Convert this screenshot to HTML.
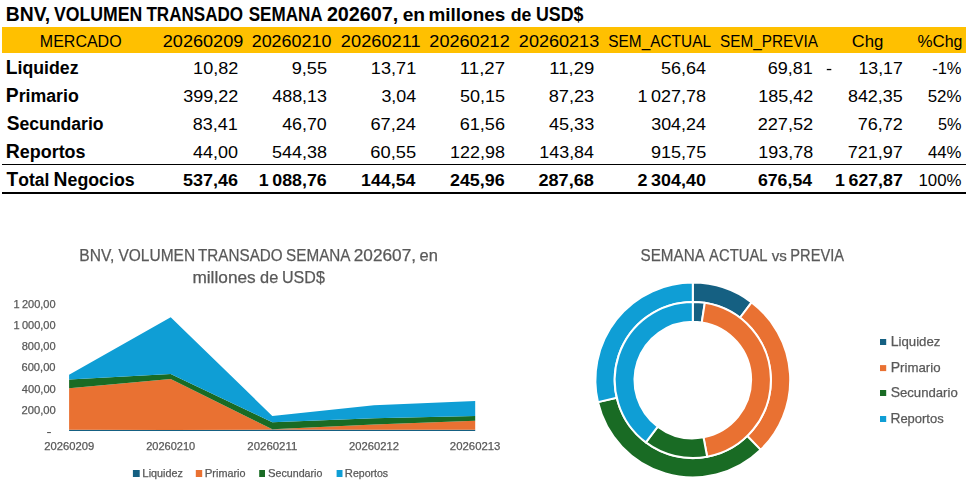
<!DOCTYPE html>
<html><head><meta charset="utf-8"><style>
html,body{margin:0;padding:0;background:#fff;}
svg{display:block;}
text{font-family:"Liberation Sans",sans-serif;white-space:pre;}
</style></head><body>
<svg width="972" height="491" viewBox="0 0 972 491">
<rect x="0" y="0" width="972" height="491" fill="#fff"/>
<rect x="2" y="27" width="964" height="26" fill="#FFC000"/>
<rect x="2" y="164" width="964" height="1" fill="#000"/>
<rect x="2" y="192" width="964" height="2" fill="#000"/>
<rect x="826.8" y="68.9" width="4.5" height="1.3" fill="#000"/>
<rect x="47.1" y="432" width="3.8" height="1.1" fill="#595959"/>
<path d="M69.10,429.87 L170.70,430.00 L272.30,429.57 L374.00,429.82 L475.20,429.82 L475.20,431.00 L374.00,431.00 L272.30,431.00 L170.70,431.00 L69.10,431.00 Z" fill="#156082"/>
<path d="M69.10,388.15 L170.70,378.99 L272.30,429.25 L374.00,424.58 L475.20,420.70 L475.20,429.82 L374.00,429.82 L272.30,429.57 L170.70,430.00 L69.10,429.87 Z" fill="#E97132"/>
<path d="M69.10,379.43 L170.70,374.11 L272.30,422.22 L374.00,418.15 L475.20,415.97 L475.20,420.70 L374.00,424.58 L272.30,429.25 L170.70,378.99 L69.10,388.15 Z" fill="#196B24"/>
<path d="M69.10,374.84 L170.70,317.22 L272.30,415.90 L374.00,405.30 L475.20,400.94 L475.20,415.97 L374.00,418.15 L272.30,422.22 L170.70,374.11 L69.10,379.43 Z" fill="#0F9ED5"/>
<path d="M692.80,282.60 A97.4,97.4 0 0 1 751.62,302.36 L739.96,317.75 A78.1,78.1 0 0 0 692.80,301.90 Z" fill="#156082" stroke="#fff" stroke-width="2.0" stroke-linejoin="round"/>
<path d="M751.62,302.36 A97.4,97.4 0 0 1 760.69,449.84 L747.23,436.00 A78.1,78.1 0 0 0 739.96,317.75 Z" fill="#E97132" stroke="#fff" stroke-width="2.0" stroke-linejoin="round"/>
<path d="M760.69,449.84 A97.4,97.4 0 0 1 597.94,402.10 L616.74,397.72 A78.1,78.1 0 0 0 747.23,436.00 Z" fill="#196B24" stroke="#fff" stroke-width="2.0" stroke-linejoin="round"/>
<path d="M597.94,402.10 A97.4,97.4 0 0 1 692.80,282.60 L692.80,301.90 A78.1,78.1 0 0 0 616.74,397.72 Z" fill="#0F9ED5" stroke="#fff" stroke-width="2.0" stroke-linejoin="round"/>
<path d="M692.80,301.90 A78.1,78.1 0 0 1 704.81,302.83 L701.77,322.39 A58.3,58.3 0 0 0 692.80,321.70 Z" fill="#156082" stroke="#fff" stroke-width="2.0" stroke-linejoin="round"/>
<path d="M704.81,302.83 A78.1,78.1 0 0 1 707.15,456.77 L703.51,437.31 A58.3,58.3 0 0 0 701.77,322.39 Z" fill="#E97132" stroke="#fff" stroke-width="2.0" stroke-linejoin="round"/>
<path d="M707.15,456.77 A78.1,78.1 0 0 1 645.86,442.42 L657.76,426.60 A58.3,58.3 0 0 0 703.51,437.31 Z" fill="#196B24" stroke="#fff" stroke-width="2.0" stroke-linejoin="round"/>
<path d="M645.86,442.42 A78.1,78.1 0 0 1 692.80,301.90 L692.80,321.70 A58.3,58.3 0 0 0 657.76,426.60 Z" fill="#0F9ED5" stroke="#fff" stroke-width="2.0" stroke-linejoin="round"/>
<rect x="132.9" y="470" width="6.80" height="7" fill="#156082"/>
<rect x="195.8" y="470" width="6.40" height="7" fill="#E97132"/>
<rect x="259.2" y="470" width="5.80" height="7" fill="#196B24"/>
<rect x="336.6" y="470" width="5.90" height="7" fill="#0F9ED5"/>
<rect x="880.0" y="339.0" width="6.2" height="6.0" fill="#156082"/>
<rect x="880.0" y="365.1" width="6.2" height="6.0" fill="#E97132"/>
<rect x="880.0" y="390.0" width="6.2" height="6.0" fill="#196B24"/>
<rect x="880.0" y="416.0" width="6.2" height="6.0" fill="#0F9ED5"/>
<text x="5.79" y="20.80" font-size="19.77" textLength="44.45" lengthAdjust="spacingAndGlyphs" fill="#000" font-weight="bold">BNV,</text>
<text x="54.00" y="20.80" font-size="19.77" textLength="88.36" lengthAdjust="spacingAndGlyphs" fill="#000" font-weight="bold">VOLUMEN</text>
<text x="146.40" y="20.80" font-size="19.77" textLength="96.67" lengthAdjust="spacingAndGlyphs" fill="#000" font-weight="bold">TRANSADO</text>
<text x="248.73" y="20.80" font-size="19.77" textLength="73.89" lengthAdjust="spacingAndGlyphs" fill="#000" font-weight="bold">SEMANA</text>
<text x="326.88" y="20.80" font-size="19.77" textLength="71.49" lengthAdjust="spacingAndGlyphs" fill="#000" font-weight="bold">202607,</text>
<text x="402.70" y="20.80" font-size="19.77" textLength="22.43" lengthAdjust="spacingAndGlyphs" fill="#000" font-weight="bold"><tspan font-size="18.19">en</tspan></text>
<text x="428.52" y="20.80" font-size="19.77" textLength="76.75" lengthAdjust="spacingAndGlyphs" fill="#000" font-weight="bold"><tspan font-size="18.19">millones</tspan></text>
<text x="510.75" y="20.80" font-size="19.77" textLength="20.70" lengthAdjust="spacingAndGlyphs" fill="#000" font-weight="bold"><tspan font-size="18.19">de</tspan></text>
<text x="535.97" y="20.80" font-size="19.77" textLength="47.50" lengthAdjust="spacingAndGlyphs" fill="#000" font-weight="bold">USD$</text>
<text x="39.85" y="46.90" font-size="16.93" textLength="81.74" lengthAdjust="spacingAndGlyphs" fill="#000">MERCADO</text>
<text x="162.75" y="46.90" font-size="16.93" textLength="80.58" lengthAdjust="spacingAndGlyphs" fill="#000">20260209</text>
<text x="251.66" y="46.90" font-size="16.93" textLength="79.79" lengthAdjust="spacingAndGlyphs" fill="#000">20260210</text>
<text x="340.85" y="46.90" font-size="16.93" textLength="79.79" lengthAdjust="spacingAndGlyphs" fill="#000">20260211</text>
<text x="429.35" y="46.90" font-size="16.93" textLength="80.38" lengthAdjust="spacingAndGlyphs" fill="#000">20260212</text>
<text x="518.85" y="46.90" font-size="16.93" textLength="80.38" lengthAdjust="spacingAndGlyphs" fill="#000">20260213</text>
<text x="608.32" y="46.90" font-size="16.93" textLength="102.66" lengthAdjust="spacingAndGlyphs" fill="#000">SEM_ACTUAL</text>
<text x="720.02" y="46.90" font-size="16.93" textLength="97.90" lengthAdjust="spacingAndGlyphs" fill="#000">SEM_PREVIA</text>
<text x="851.76" y="46.90" font-size="16.93" textLength="31.58" lengthAdjust="spacingAndGlyphs" fill="#000">C<tspan font-size="15.91">hg</tspan></text>
<text x="917.47" y="46.90" font-size="16.93" textLength="44.92" lengthAdjust="spacingAndGlyphs" fill="#000">%C<tspan font-size="15.91">hg</tspan></text>
<text x="5.80" y="74.00" font-size="20.06" textLength="72.76" lengthAdjust="spacingAndGlyphs" fill="#000" font-weight="bold">L<tspan font-size="18.45">iquidez</tspan></text>
<text x="5.80" y="102.00" font-size="20.06" textLength="72.99" lengthAdjust="spacingAndGlyphs" fill="#000" font-weight="bold">P<tspan font-size="18.45">rimario</tspan></text>
<text x="6.70" y="130.00" font-size="20.06" textLength="96.87" lengthAdjust="spacingAndGlyphs" fill="#000" font-weight="bold">S<tspan font-size="18.45">ecundario</tspan></text>
<text x="5.78" y="158.00" font-size="20.06" textLength="79.74" lengthAdjust="spacingAndGlyphs" fill="#000" font-weight="bold">R<tspan font-size="18.45">eportos</tspan></text>
<text x="6.60" y="186.00" font-size="20.06" textLength="42.73" lengthAdjust="spacingAndGlyphs" fill="#000" font-weight="bold">T<tspan font-size="18.45">otal</tspan></text>
<text x="53.59" y="186.00" font-size="20.06" textLength="81.03" lengthAdjust="spacingAndGlyphs" fill="#000" font-weight="bold">N<tspan font-size="18.45">egocios</tspan></text>
<text x="193.12" y="74.00" font-size="17.21" textLength="45.11" lengthAdjust="spacingAndGlyphs" fill="#000">10,82</text>
<text x="291.65" y="74.00" font-size="17.21" textLength="35.34" lengthAdjust="spacingAndGlyphs" fill="#000">9,55</text>
<text x="370.87" y="74.00" font-size="17.21" textLength="45.37" lengthAdjust="spacingAndGlyphs" fill="#000">13,71</text>
<text x="459.84" y="74.00" font-size="17.21" textLength="45.17" lengthAdjust="spacingAndGlyphs" fill="#000">11,27</text>
<text x="549.34" y="74.00" font-size="17.21" textLength="44.91" lengthAdjust="spacingAndGlyphs" fill="#000">11,29</text>
<text x="660.94" y="74.00" font-size="17.21" textLength="45.01" lengthAdjust="spacingAndGlyphs" fill="#000">56,64</text>
<text x="767.66" y="74.00" font-size="17.21" textLength="45.07" lengthAdjust="spacingAndGlyphs" fill="#000">69,81</text>
<text x="858.50" y="74.00" font-size="17.21" textLength="44.22" lengthAdjust="spacingAndGlyphs" fill="#000">13,17</text>
<text x="932.24" y="74.00" font-size="17.21" textLength="29.25" lengthAdjust="spacingAndGlyphs" fill="#000">-1%</text>
<text x="183.19" y="102.00" font-size="17.21" textLength="55.04" lengthAdjust="spacingAndGlyphs" fill="#000">399,22</text>
<text x="272.22" y="102.00" font-size="17.21" textLength="54.76" lengthAdjust="spacingAndGlyphs" fill="#000">488,13</text>
<text x="381.44" y="102.00" font-size="17.21" textLength="34.75" lengthAdjust="spacingAndGlyphs" fill="#000">3,04</text>
<text x="459.94" y="102.00" font-size="17.21" textLength="45.04" lengthAdjust="spacingAndGlyphs" fill="#000">50,15</text>
<text x="548.68" y="102.00" font-size="17.21" textLength="45.56" lengthAdjust="spacingAndGlyphs" fill="#000">87,23</text>
<text x="637.48" y="102.00" font-size="17.21" textLength="68.65" lengthAdjust="spacingAndGlyphs" fill="#000">1 027,78</text>
<text x="758.38" y="102.00" font-size="17.21" textLength="54.85" lengthAdjust="spacingAndGlyphs" fill="#000">185,42</text>
<text x="847.94" y="102.00" font-size="17.21" textLength="54.79" lengthAdjust="spacingAndGlyphs" fill="#000">842,35</text>
<text x="927.72" y="102.00" font-size="17.21" textLength="33.78" lengthAdjust="spacingAndGlyphs" fill="#000">52%</text>
<text x="192.69" y="130.00" font-size="17.21" textLength="45.04" lengthAdjust="spacingAndGlyphs" fill="#000">83,41</text>
<text x="282.22" y="130.00" font-size="17.21" textLength="44.47" lengthAdjust="spacingAndGlyphs" fill="#000">46,70</text>
<text x="370.40" y="130.00" font-size="17.21" textLength="45.56" lengthAdjust="spacingAndGlyphs" fill="#000">67,24</text>
<text x="459.65" y="130.00" font-size="17.21" textLength="45.33" lengthAdjust="spacingAndGlyphs" fill="#000">61,56</text>
<text x="548.97" y="130.00" font-size="17.21" textLength="45.27" lengthAdjust="spacingAndGlyphs" fill="#000">45,33</text>
<text x="651.19" y="130.00" font-size="17.21" textLength="54.76" lengthAdjust="spacingAndGlyphs" fill="#000">304,24</text>
<text x="757.65" y="130.00" font-size="17.21" textLength="55.59" lengthAdjust="spacingAndGlyphs" fill="#000">227,52</text>
<text x="857.66" y="130.00" font-size="17.21" textLength="45.07" lengthAdjust="spacingAndGlyphs" fill="#000">76,72</text>
<text x="937.99" y="130.00" font-size="17.21" textLength="23.49" lengthAdjust="spacingAndGlyphs" fill="#000">5%</text>
<text x="192.97" y="158.00" font-size="17.21" textLength="44.98" lengthAdjust="spacingAndGlyphs" fill="#000">44,00</text>
<text x="271.94" y="158.00" font-size="17.21" textLength="55.04" lengthAdjust="spacingAndGlyphs" fill="#000">544,38</text>
<text x="370.39" y="158.00" font-size="17.21" textLength="45.85" lengthAdjust="spacingAndGlyphs" fill="#000">60,55</text>
<text x="450.13" y="158.00" font-size="17.21" textLength="54.85" lengthAdjust="spacingAndGlyphs" fill="#000">122,98</text>
<text x="539.39" y="158.00" font-size="17.21" textLength="54.56" lengthAdjust="spacingAndGlyphs" fill="#000">143,84</text>
<text x="650.90" y="158.00" font-size="17.21" textLength="55.33" lengthAdjust="spacingAndGlyphs" fill="#000">915,75</text>
<text x="758.38" y="158.00" font-size="17.21" textLength="54.85" lengthAdjust="spacingAndGlyphs" fill="#000">193,78</text>
<text x="847.66" y="158.00" font-size="17.21" textLength="55.07" lengthAdjust="spacingAndGlyphs" fill="#000">721,97</text>
<text x="927.99" y="158.00" font-size="17.21" textLength="33.51" lengthAdjust="spacingAndGlyphs" fill="#000">44%</text>
<text x="182.97" y="186.00" font-size="17.21" textLength="54.98" lengthAdjust="spacingAndGlyphs" fill="#000" font-weight="bold">537,46</text>
<text x="258.89" y="186.00" font-size="17.21" textLength="67.80" lengthAdjust="spacingAndGlyphs" fill="#000" font-weight="bold">1 088,76</text>
<text x="361.09" y="186.00" font-size="17.21" textLength="54.40" lengthAdjust="spacingAndGlyphs" fill="#000" font-weight="bold">144,54</text>
<text x="449.94" y="186.00" font-size="17.21" textLength="54.76" lengthAdjust="spacingAndGlyphs" fill="#000" font-weight="bold">245,96</text>
<text x="538.43" y="186.00" font-size="17.21" textLength="55.52" lengthAdjust="spacingAndGlyphs" fill="#000" font-weight="bold">287,68</text>
<text x="637.54" y="186.00" font-size="17.21" textLength="68.39" lengthAdjust="spacingAndGlyphs" fill="#000" font-weight="bold">2 304,40</text>
<text x="757.95" y="186.00" font-size="17.21" textLength="54.14" lengthAdjust="spacingAndGlyphs" fill="#000" font-weight="bold">676,54</text>
<text x="835.09" y="186.00" font-size="17.21" textLength="67.73" lengthAdjust="spacingAndGlyphs" fill="#000" font-weight="bold">1 627,87</text>
<text x="918.45" y="186.00" font-size="17.21" textLength="43.05" lengthAdjust="spacingAndGlyphs" fill="#000">100%</text>
</svg>
<svg style="position:absolute;left:0;top:0;will-change:transform" width="972" height="491" viewBox="0 0 972 491">
<text x="79.28" y="260.90" font-size="16.93" textLength="34.98" lengthAdjust="spacingAndGlyphs" fill="#595959" stroke="#595959" stroke-width="0.25">BNV,</text>
<text x="118.40" y="260.90" font-size="16.93" textLength="76.77" lengthAdjust="spacingAndGlyphs" fill="#595959" stroke="#595959" stroke-width="0.25">VOLUMEN</text>
<text x="198.06" y="260.90" font-size="16.93" textLength="84.60" lengthAdjust="spacingAndGlyphs" fill="#595959" stroke="#595959" stroke-width="0.25">TRANSADO</text>
<text x="286.12" y="260.90" font-size="16.93" textLength="64.40" lengthAdjust="spacingAndGlyphs" fill="#595959" stroke="#595959" stroke-width="0.25">SEMANA</text>
<text x="353.79" y="260.90" font-size="16.93" textLength="62.30" lengthAdjust="spacingAndGlyphs" fill="#595959" stroke="#595959" stroke-width="0.25">202607,</text>
<text x="419.48" y="260.90" font-size="16.93" textLength="18.34" lengthAdjust="spacingAndGlyphs" fill="#595959" stroke="#595959" stroke-width="0.25"><tspan font-size="15.91">en</tspan></text>
<text x="192.42" y="282.90" font-size="16.93" textLength="63.32" lengthAdjust="spacingAndGlyphs" fill="#595959" stroke="#595959" stroke-width="0.25"><tspan font-size="15.91">millones</tspan></text>
<text x="260.09" y="282.90" font-size="16.93" textLength="18.17" lengthAdjust="spacingAndGlyphs" fill="#595959" stroke="#595959" stroke-width="0.25"><tspan font-size="15.91">de</tspan></text>
<text x="282.00" y="282.90" font-size="16.93" textLength="42.85" lengthAdjust="spacingAndGlyphs" fill="#595959" stroke="#595959" stroke-width="0.25">USD$</text>
<text x="13.61" y="308.10" font-size="10.53" textLength="41.96" lengthAdjust="spacingAndGlyphs" fill="#595959" stroke="#595959" stroke-width="0.25">1 200,00</text>
<text x="13.61" y="328.80" font-size="10.53" textLength="41.96" lengthAdjust="spacingAndGlyphs" fill="#595959" stroke="#595959" stroke-width="0.25">1 000,00</text>
<text x="21.65" y="349.60" font-size="10.81" textLength="33.92" lengthAdjust="spacingAndGlyphs" fill="#595959" stroke="#595959" stroke-width="0.25">800,00</text>
<text x="21.48" y="371.00" font-size="10.67" textLength="34.10" lengthAdjust="spacingAndGlyphs" fill="#595959" stroke="#595959" stroke-width="0.25">600,00</text>
<text x="21.83" y="393.00" font-size="10.67" textLength="33.95" lengthAdjust="spacingAndGlyphs" fill="#595959" stroke="#595959" stroke-width="0.25">400,00</text>
<text x="21.47" y="413.80" font-size="10.53" textLength="34.31" lengthAdjust="spacingAndGlyphs" fill="#595959" stroke="#595959" stroke-width="0.25">200,00</text>
<text x="44.27" y="450.00" font-size="10.95" textLength="49.98" lengthAdjust="spacingAndGlyphs" fill="#595959" stroke="#595959" stroke-width="0.25">20260209</text>
<text x="146.18" y="450.00" font-size="10.95" textLength="49.09" lengthAdjust="spacingAndGlyphs" fill="#595959" stroke="#595959" stroke-width="0.25">20260210</text>
<text x="247.37" y="450.00" font-size="10.95" textLength="49.90" lengthAdjust="spacingAndGlyphs" fill="#595959" stroke="#595959" stroke-width="0.25">20260211</text>
<text x="349.07" y="450.00" font-size="10.95" textLength="49.88" lengthAdjust="spacingAndGlyphs" fill="#595959" stroke="#595959" stroke-width="0.25">20260212</text>
<text x="449.87" y="450.00" font-size="10.95" textLength="50.59" lengthAdjust="spacingAndGlyphs" fill="#595959" stroke="#595959" stroke-width="0.25">20260213</text>
<text x="142.30" y="477.00" font-size="11.10" textLength="40.50" lengthAdjust="spacingAndGlyphs" fill="#595959" stroke="#595959" stroke-width="0.25">L<tspan font-size="10.43">iquidez</tspan></text>
<text x="204.70" y="477.00" font-size="11.10" textLength="40.74" lengthAdjust="spacingAndGlyphs" fill="#595959" stroke="#595959" stroke-width="0.25">P<tspan font-size="10.43">rimario</tspan></text>
<text x="267.95" y="477.00" font-size="11.10" textLength="54.39" lengthAdjust="spacingAndGlyphs" fill="#595959" stroke="#595959" stroke-width="0.25">S<tspan font-size="10.43">ecundario</tspan></text>
<text x="344.82" y="477.00" font-size="11.10" textLength="43.31" lengthAdjust="spacingAndGlyphs" fill="#595959" stroke="#595959" stroke-width="0.25">R<tspan font-size="10.43">eportos</tspan></text>
<text x="640.52" y="260.60" font-size="16.22" textLength="64.30" lengthAdjust="spacingAndGlyphs" fill="#595959" stroke="#595959" stroke-width="0.25">SEMANA</text>
<text x="709.10" y="260.60" font-size="16.22" textLength="58.47" lengthAdjust="spacingAndGlyphs" fill="#595959" stroke="#595959" stroke-width="0.25">ACTUAL</text>
<text x="771.70" y="260.60" font-size="16.22" textLength="15.17" lengthAdjust="spacingAndGlyphs" fill="#595959" stroke="#595959" stroke-width="0.25"><tspan font-size="15.24">vs</tspan></text>
<text x="790.36" y="260.60" font-size="16.22" textLength="53.67" lengthAdjust="spacingAndGlyphs" fill="#595959" stroke="#595959" stroke-width="0.25">PREVIA</text>
<text x="890.70" y="345.90" font-size="13.80" textLength="49.72" lengthAdjust="spacingAndGlyphs" fill="#595959" stroke="#595959" stroke-width="0.25">L<tspan font-size="12.97">iquidez</tspan></text>
<text x="890.70" y="372.00" font-size="13.80" textLength="49.84" lengthAdjust="spacingAndGlyphs" fill="#595959" stroke="#595959" stroke-width="0.25">P<tspan font-size="12.97">rimario</tspan></text>
<text x="890.66" y="396.80" font-size="13.80" textLength="67.07" lengthAdjust="spacingAndGlyphs" fill="#595959" stroke="#595959" stroke-width="0.25">S<tspan font-size="12.97">ecundario</tspan></text>
<text x="890.42" y="422.70" font-size="13.80" textLength="53.28" lengthAdjust="spacingAndGlyphs" fill="#595959" stroke="#595959" stroke-width="0.25">R<tspan font-size="12.97">eportos</tspan></text>
</svg>
</body></html>
